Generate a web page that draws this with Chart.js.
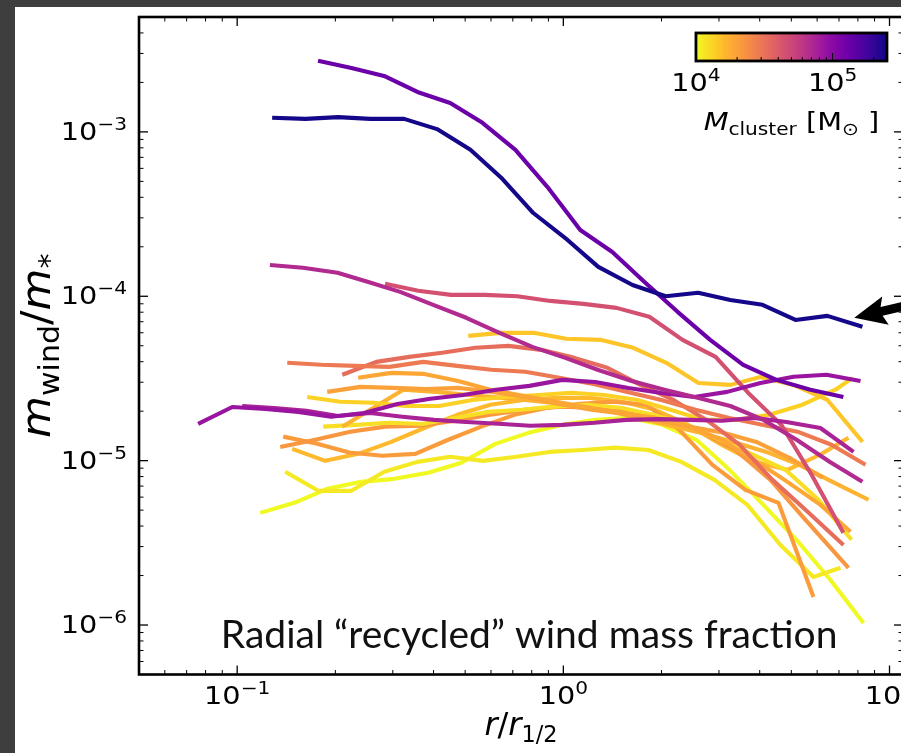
<!DOCTYPE html>
<html><head><meta charset="utf-8">
<script src="https://cdn.jsdelivr.net/npm/chart.js@4.4.1/dist/chart.umd.min.js"></script>
<style>
html,body{margin:0;padding:0;width:901px;height:753px;overflow:hidden;background:#3e3e3e;}
#panel{position:absolute;left:15px;top:7px;width:940px;height:746px;background:#ffffff;overflow:hidden;}
canvas{display:block;}
</style></head>
<body><div id="panel"><canvas id="chart" width="940" height="746"></canvas></div>
<script>
// ---------------- data ----------------
const cbarMin = 1e4, cbarMax = 2.5e5;
const xTickDecades = [-1, 0, 1];
const yTickDecades = [-6, -5, -4, -3];
const cbarTickDecades = [4, 5];
const annotationText = 'Radial \u201crecycled\u201d wind mass fraction';

// cluster masses (Msun), one per profile, same order as the r/f arrays below
const clusterMasses = [2.4e5, 1.3e5, 6.9e4, 8.7e4, 7.5e4, 4.5e4,
                       1.47e4, 2.9e4, 3.3e4, 1.9e4, 2.0e4, 1.35e4, 1.7e4, 1.2e4, 2.2e4, 2.1e4, 1.6e4, 1.12e4, 1.0e4];

const r01 = [0.128,0.162,0.204,0.256,0.325,0.41,0.519,0.65,0.809,1.03,1.28,1.63,2.06,2.59,3.25,4.08,5.15,6.45,8.26];
const f01 = [1.22e-3,1.2e-3,1.23e-3,1.2e-3,1.2e-3,1.04e-3,7.78e-4,5.18e-4,3.21e-4,2.2e-4,1.51e-4,1.17e-4,1.0e-4,1.05e-4,9.5e-5,8.87e-5,7.18e-5,7.6e-5,6.52e-5];

const r02 = [0.177,0.224,0.282,0.357,0.45,0.565,0.713,0.893,1.127,1.413,1.77,2.24,2.82,3.56,4.5,5.72,7.22];
const f02 = [2.71e-3,2.45e-3,2.19e-3,1.75e-3,1.5e-3,1.135e-3,7.78e-4,4.63e-4,2.53e-4,1.86e-4,1.225e-4,8.04e-5,5.43e-5,3.83e-5,3.1e-5,2.7e-5,2.44e-5];

const r03 = [0.126,0.159,0.203,0.251,0.316,0.399,0.504,0.637,0.803,1.014,1.28,1.62,2.04,2.58,3.25,4.11,5.19,6.55,8.26];
const f03 = [1.55e-4,1.49e-4,1.39e-4,1.225e-4,1.064e-4,8.87e-5,7.4e-5,5.99e-5,4.92e-5,4.22e-5,3.56e-5,3.05e-5,2.7e-5,2.41e-5,2.15e-5,1.77e-5,1.34e-5,9.84e-6,7.43e-6];

const r04 = [0.0759,0.0966,0.122,0.154,0.194,0.245,0.31,0.391,0.493,0.623,0.787,0.993,1.253,1.582,2.0,2.52,3.18,4.02,5.08,6.41,8.15];
const f04 = [1.675e-5,2.12e-5,2.06e-5,1.98e-5,1.85e-5,1.95e-5,2.21e-5,2.38e-5,2.51e-5,2.7e-5,2.85e-5,3.1e-5,3.01e-5,2.77e-5,2.58e-5,2.44e-5,2.62e-5,2.97e-5,3.24e-5,3.33e-5,3.05e-5];

const r05 = [0.1036,0.13,0.163,0.204,0.256,0.321,0.402,0.504,0.632,0.792,0.993,1.245,1.56,1.956,2.45,3.07,3.85,4.83,6.14,7.76];
const f05 = [2.15e-5,2.09e-5,2.01e-5,1.87e-5,1.95e-5,1.85e-5,1.77e-5,1.72e-5,1.675e-5,1.63e-5,1.65e-5,1.7e-5,1.77e-5,1.79e-5,1.77e-5,1.75e-5,1.82e-5,1.72e-5,1.58e-5,1.13e-5];

const r06 = [0.284,0.359,0.453,0.573,0.723,0.912,1.152,1.455,1.835,2.32,2.93,3.69,4.66,5.77,7.22];
const f06 = [1.19e-4,1.08e-4,1.02e-4,1.02e-4,1.0e-4,9.37e-5,8.99e-5,8.5e-5,7.5e-5,5.43e-5,4.28e-5,2.58e-5,1.65e-5,8.2e-6,3.64e-6];

const r07 = [0.511,0.641,0.809,1.021,1.299,1.639,2.07,2.595,3.253,4.02,5.076,6.454,8.264];
const f07 = [5.74e-5,5.99e-5,5.99e-5,5.51e-5,5.43e-5,4.86e-5,3.94e-5,2.97e-5,2.89e-5,3.23e-5,2.89e-5,2.34e-5,1.3e-5];

const r08 = [0.1424,0.181,0.2301,0.2926,0.372,0.4727,0.6013,0.7647,0.9721,1.236,1.572,1.998,2.54,3.23,4.106,5.222,6.639,8.442];
const f08 = [3.94e-5,3.83e-5,3.77e-5,3.72e-5,3.99e-5,3.77e-5,3.57e-5,3.47e-5,3.19e-5,2.93e-5,2.62e-5,2.34e-5,2.04e-5,1.82e-5,1.65e-5,1.5e-5,1.25e-5,9.43e-6];

const r09 = [0.21,0.267,0.337,0.4252,0.5371,0.6781,0.8561,1.081,1.365,1.723,2.175,2.746,3.467,4.376,5.526,7.226];
const f09 = [3.33e-5,3.99e-5,4.28e-5,4.53e-5,4.86e-5,4.99e-5,4.72e-5,4.22e-5,3.67e-5,2.89e-5,2.34e-5,1.77e-5,1.25e-5,7.64e-6,5.02e-6,3.07e-6];

const r10 = [0.235,0.2968,0.3746,0.4727,0.5971,0.754,0.9517,1.202,1.517,1.915,2.418,3.053,3.854,4.865,6.143,7.593];
const f10 = [3.19e-5,3.42e-5,3.37e-5,3.06e-5,2.7e-5,2.48e-5,2.28e-5,2.1e-5,1.95e-5,1.82e-5,1.63e-5,1.34e-5,1.01e-5,7.43e-6,5.38e-6,3.69e-6];

const r11 = [0.1888,0.2384,0.301,0.38,0.4797,0.6056,0.7647,0.9653,1.219,1.539,1.942,2.452,3.096,3.908,4.935,6.231];
const f11 = [2.62e-5,2.81e-5,2.77e-5,2.73e-5,2.77e-5,2.62e-5,2.44e-5,2.22e-5,2.04e-5,1.93e-5,1.77e-5,1.61e-5,1.48e-5,1.3e-5,1.04e-5,7.86e-6];

const r12 = [0.1639,0.207,0.2614,0.3299,0.4163,0.5259,0.6638,0.8381,1.058,1.336,1.687,2.129,2.688,3.394,4.284,5.41,6.83,7.701];
const f12 = [2.44e-5,2.28e-5,2.25e-5,2.15e-5,2.15e-5,2.34e-5,2.44e-5,2.51e-5,2.59e-5,2.51e-5,2.34e-5,2.04e-5,1.77e-5,1.77e-5,1.9e-5,2.19e-5,2.7e-5,3.19e-5];

const r13 = [0.21,0.2559,0.323,0.4076,0.5148,0.6499,0.8205,1.036,1.308,1.651,2.084,2.632,3.322,4.194,5.296,6.686,8.623];
const f13 = [1.61e-5,2.04e-5,2.7e-5,2.62e-5,2.51e-5,2.41e-5,2.31e-5,2.19e-5,2.04e-5,1.85e-5,1.65e-5,1.48e-5,1.3e-5,1.13e-5,9.43e-6,7.43e-6,5.78e-6];

const r14 = [0.1835,0.2317,0.2926,0.3694,0.4661,0.5887,0.7434,0.9384,1.185,1.496,1.889,2.384,3.01,3.8,4.797,6.057,7.647];
const f14 = [1.61e-5,1.65e-5,1.7e-5,1.67e-5,1.82e-5,1.98e-5,2.04e-5,2.13e-5,2.19e-5,2.1e-5,1.9e-5,1.65e-5,1.34e-5,1.09e-5,8.79e-6,5.78e-6,3.3e-6];

const r15 = [0.1355,0.1735,0.2222,0.2844,0.3642,0.4661,0.5971,0.7647,0.979,1.254,1.606,2.056,2.632,3.37,4.315,5.526,7.486];
const f15 = [1.21e-5,1.34e-5,1.5e-5,1.61e-5,1.63e-5,1.75e-5,1.9e-5,2.04e-5,2.13e-5,2.1e-5,1.98e-5,1.77e-5,1.5e-5,1.16e-5,7.64e-6,4.36e-6,2.23e-6];

const r16 = [0.1384,0.1747,0.2206,0.2785,0.3516,0.4436,0.5604,0.7074,0.8931,1.127,1.424,1.798,2.269,2.865,3.617,4.566,5.848];
const f16 = [1.4e-5,1.27e-5,1.12e-5,1.07e-5,1.1e-5,1.34e-5,1.61e-5,1.9e-5,2.1e-5,2.22e-5,2.28e-5,2.19e-5,1.54e-5,9.43e-6,6.64e-6,5.54e-6,1.48e-6];

const r17 = [0.1475,0.1862,0.235,0.2968,0.3746,0.4727,0.5971,0.754,0.9517,1.202,1.517,1.915,2.418,3.053,3.854,4.865,6.143,7.486];
const f17 = [1.18e-5,9.97e-6,1.1e-5,1.3e-5,1.58e-5,1.9e-5,2.19e-5,2.34e-5,2.41e-5,2.41e-5,2.28e-5,2.04e-5,1.65e-5,1.25e-5,9.83e-6,8.79e-6,1.09e-5,1.38e-5];

const r18 = [0.1404,0.1772,0.2238,0.2825,0.3566,0.4499,0.5683,0.7175,0.9058,1.144,1.444,1.823,2.301,2.906,3.668,4.631,5.848,7.075];
const f18 = [8.55e-6,6.55e-6,6.55e-6,8.55e-6,9.83e-6,1.055e-5,9.97e-6,1.055e-5,1.13e-5,1.16e-5,1.2e-5,1.16e-5,9.83e-6,7.64e-6,5.38e-6,3.07e-6,1.96e-6,2.23e-6];

const r19 = [0.1177,0.1496,0.1888,0.2401,0.3031,0.3853,0.4865,0.6185,0.7811,0.993,1.254,1.594,2.012,2.559,3.23,4.106,5.185,6.592,8.323];
const f19 = [4.81e-6,5.54e-6,6.74e-6,7.43e-6,7.75e-6,8.43e-6,9.7e-6,1.265e-5,1.476e-5,1.651e-5,1.771e-5,1.821e-5,1.651e-5,1.338e-5,8.79e-6,5.38e-6,3.3e-6,1.88e-6,1.03e-6];

const arrowTip = {x: 7.8, y: 7.4e-5};
const arrowTail = {x: 12.5, y: 9.2e-5};

const seriesR = [r01,r02,r03,r04,r05,r06,r07,r08,r09,r10,r11,r12,r13,r14,r15,r16,r17,r18,r19];
const seriesF = [f01,f02,f03,f04,f05,f06,f07,f08,f09,f10,f11,f12,f13,f14,f15,f16,f17,f18,f19];

// ---------------- style helpers ----------------
const plasmaStops = ['#0d0887','#2a0593','#41049d','#5601a4','#6a00a8','#7e03a8','#8f0da4','#a11b9b','#b12a90','#bf3984','#cc4778','#d6556d','#e16462','#ea7457','#f2844b','#f89540','#fca636','#feb72d','#fcce25','#f7e225','#f0f921'];
function hexRgb(h){return [parseInt(h.slice(1,3),16),parseInt(h.slice(3,5),16),parseInt(h.slice(5,7),16)];}
function plasma(t){
  t = Math.min(1, Math.max(0, t));
  const n = plasmaStops.length - 1;
  const i = Math.min(n - 1, Math.floor(t * n));
  const f = t * n - i;
  const a = hexRgb(plasmaStops[i]), b = hexRgb(plasmaStops[i + 1]);
  const c = a.map((v, k) => Math.round(v + (b[k] - v) * f));
  return 'rgb(' + c.join(',') + ')';
}
function massFrac(m){ return (Math.log10(m) - Math.log10(cbarMin)) / (Math.log10(cbarMax) - Math.log10(cbarMin)); }
function massColor(m){ return plasma(1 - massFrac(m)); }

function logTicks(min, max){
  const out = [];
  for (let e = Math.floor(Math.log10(min)); e <= Math.ceil(Math.log10(max)); e++){
    for (let k = 1; k <= 9; k++){
      const v = k * Math.pow(10, e);
      if (v >= min * 0.9999 && v <= max * 1.0001) out.push(v);
    }
  }
  return out;
}
function isDecade(v){ const l = Math.log10(v); return Math.abs(l - Math.round(l)) < 1e-6; }

const TXT_SX = 1.15;
const TICK_F = 25;
const YLAB_F = 43;
const XLAB_F = 32;
const FAM = '"DejaVu Sans"';
function fontStr(s, it, fam){ return (it ? 'italic ' : '') + s + 'px ' + (fam || FAM); }
function drawRuns(ctx, runs, x, y, align, rot, stretch){
  let w = 0;
  for (const r of runs){ ctx.font = fontStr(r.s, r.i, r.fam); r.w = ctx.measureText(r.t).width; w += r.w + (r.gap || 0); }
  ctx.save();
  ctx.translate(x, y);
  if (rot){ ctx.rotate(rot); ctx.scale(1, stretch); } else { ctx.scale(stretch, 1); }
  let cx = align === 'center' ? -w / 2 : align === 'right' ? -w : 0;
  ctx.textBaseline = 'alphabetic'; ctx.textAlign = 'left'; ctx.fillStyle = '#000';
  for (const r of runs){ ctx.font = fontStr(r.s, r.i, r.fam); ctx.fillText(r.t, cx, r.dy || 0); cx += r.w + (r.gap || 0); }
  ctx.restore();
  return w;
}
function powRuns(e, F){
  return [{t:'10', s:F}, {t:(e < 0 ? '\u2212' + (-e) : String(e)), s:0.7 * F, dy:-0.4 * F}];
}
function seg(ctx, x1, y1, x2, y2){ ctx.beginPath(); ctx.moveTo(x1, y1); ctx.lineTo(x2, y2); ctx.stroke(); }

const figPlugin = {
  id: 'fig',
  afterDatasetsDraw(chart){
    const ctx = chart.ctx, a = chart.chartArea, xs = chart.scales.x, ys = chart.scales.y;
    const W = a.right - a.left, H = a.bottom - a.top;
    ctx.save();
    // inward ticks
    ctx.strokeStyle = '#000';
    for (const t of xs.ticks){
      const v = t.value; if (v <= xs.min * 1.001 || v >= xs.max * 0.999) continue;
      const p = xs.getPixelForValue(v), L = isDecade(v) ? 9 : 4.5;
      ctx.lineWidth = isDecade(v) ? 1.3 : 1;
      seg(ctx, p, a.bottom, p, a.bottom - L); seg(ctx, p, a.top, p, a.top + L);
    }
    for (const t of ys.ticks){
      const v = t.value; if (v <= ys.min * 1.001 || v >= ys.max * 0.999) continue;
      const p = ys.getPixelForValue(v), L = isDecade(v) ? 9 : 4.5;
      ctx.lineWidth = isDecade(v) ? 1.3 : 1;
      seg(ctx, a.left, p, a.left + L, p); seg(ctx, a.right, p, a.right - L, p);
    }
    // frame
    ctx.lineWidth = 2.6; ctx.strokeStyle = '#000';
    ctx.strokeRect(a.left, a.top, W, H);
    // tick labels
    for (const e of yTickDecades){
      const p = ys.getPixelForValue(Math.pow(10, e));
      drawRuns(ctx, powRuns(e, TICK_F), a.left - 12, p + 8, 'right', 0, TXT_SX);
    }
    for (const e of xTickDecades){
      const p = xs.getPixelForValue(Math.pow(10, e));
      drawRuns(ctx, powRuns(e, TICK_F), p, a.bottom + 29.5, 'center', 0, TXT_SX);
    }
    // axis titles
    drawRuns(ctx, [{t:'m', s:YLAB_F, i:true}, {t:'wind', s:0.7 * YLAB_F, dy:0.22 * YLAB_F}, {t:'/', s:YLAB_F}, {t:'m', s:YLAB_F, i:true}, {t:'*', s:0.7 * YLAB_F, dy:0.22 * YLAB_F}],
      35, a.top + H / 2, 'center', -Math.PI / 2, 0.95);
    drawRuns(ctx, [{t:'r', s:XLAB_F, i:true}, {t:'/', s:XLAB_F}, {t:'r', s:XLAB_F, i:true}, {t:'1/2', s:0.7 * XLAB_F, dy:0.22 * XLAB_F}],
      a.left + W / 2, 728, 'center', 0, 1.0);
    // colorbar inset
    const cb = {l: a.left + 0.729 * W, r: a.left + 0.979 * W, t: a.top + 0.0243 * H, b: a.top + 0.0669 * H};
    const cbX = m => cb.l + massFrac(m) * (cb.r - cb.l);
    const g = ctx.createLinearGradient(cb.l, 0, cb.r, 0);
    for (let k = 0; k <= 40; k++){ g.addColorStop(k / 40, plasma(1 - k / 40)); }
    ctx.fillStyle = g; ctx.fillRect(cb.l, cb.t, cb.r - cb.l, cb.b - cb.t);
    ctx.strokeStyle = '#000';
    for (const v of logTicks(cbarMin, cbarMax)){
      if (v <= cbarMin * 1.001 || v >= cbarMax * 0.999) continue;
      const p = cbX(v), L = isDecade(v) ? 8 : 4;
      ctx.lineWidth = 1; seg(ctx, p, cb.b, p, cb.b - L);
    }
    ctx.lineWidth = 2.8; ctx.strokeRect(cb.l, cb.t, cb.r - cb.l, cb.b - cb.t);
    for (const e of cbarTickDecades){
      drawRuns(ctx, powRuns(e, TICK_F), cbX(Math.pow(10, e)), cb.b + 29.7, 'center', 0, TXT_SX);
    }
    drawRuns(ctx, [{t:'M', s:TICK_F, i:true}, {t:'cluster', s:0.7 * TICK_F, dy:0.22 * TICK_F}, {t:' [M', s:TICK_F}, {t:'\u2299', s:0.7 * TICK_F, dy:0.22 * TICK_F}, {t:' ]', s:TICK_F}],
      (cb.l + cb.r) / 2, cb.b + 69, 'center', 0, TXT_SX);
    // slide annotation text
    const tx = a.left + 0.107 * W, ty = a.top + 0.96 * H;
    let fs = 40;
    ctx.font = fs + 'px Lato';
    fs = fs * 617 / ctx.measureText(annotationText).width;
    ctx.font = fs + 'px Lato'; ctx.fillStyle = '#111'; ctx.textAlign = 'left'; ctx.textBaseline = 'alphabetic';
    ctx.fillText(annotationText, tx, ty);
    // arrow
    const px = xs.getPixelForValue(arrowTip.x), py = ys.getPixelForValue(arrowTip.y);
    const qx = xs.getPixelForValue(arrowTail.x), qy = ys.getPixelForValue(arrowTail.y);
    const ang = Math.atan2(qy - py, qx - px);
    ctx.save(); ctx.translate(px, py); ctx.rotate(ang);
    const len = Math.hypot(qx - px, qy - py);
    ctx.fillStyle = '#000';
    ctx.beginPath(); ctx.moveTo(0, 0); ctx.lineTo(32, -14.5); ctx.lineTo(28, -4.5); ctx.lineTo(len, -4.5); ctx.lineTo(len, 4.5); ctx.lineTo(28, 4.5); ctx.lineTo(32, 14.5); ctx.closePath(); ctx.fill();
    ctx.restore();
    ctx.restore();
  }
};

const datasets = seriesR.map((r, k) => ({
  data: r.map((x, j) => ({x: x, y: seriesF[k][j]})),
  borderColor: massColor(clusterMasses[k]),
  borderWidth: 4.1, pointRadius: 0, tension: 0, fill: false,
  borderJoinStyle: 'round', borderCapStyle: 'butt'
}));

function setTicks(s){ s.ticks = logTicks(s.min, s.max).map(v => ({value: v})); }

new Chart(document.getElementById('chart'), {
  type: 'line',
  data: {datasets: datasets},
  options: {
    responsive: false, animation: false, devicePixelRatio: 1, events: [],
    layout: {padding: {top: 10, right: 52, left: 0, bottom: 0}},
    plugins: {legend: {display: false}, tooltip: {enabled: false}, title: {display: false}},
    scales: {
      x: {type: 'logarithmic', min: 0.05, max: 11, grid: {display: false}, border: {display: false},
          ticks: {display: false}, afterBuildTicks: setTicks, afterFit(s){ s.height = 78.5; }},
      y: {type: 'logarithmic', min: 5e-7, max: 5e-3, grid: {display: false}, border: {display: false},
          ticks: {display: false}, afterBuildTicks: setTicks, afterFit(s){ s.width = 124; }}
    }
  },
  plugins: [figPlugin]
});
</script></body></html>
